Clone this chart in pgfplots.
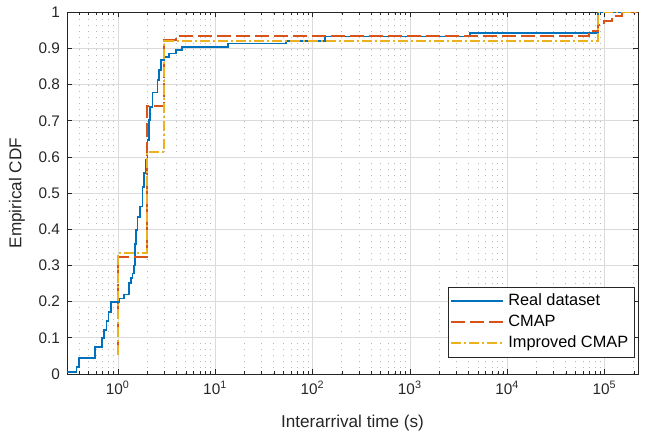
\documentclass[border=0pt]{standalone}
\usepackage{fontspec}
\setmainfont{Liberation Sans}
\usepackage{pgfplots}
\pgfplotsset{compat=1.18}
\definecolor{mblue}{rgb}{0,0.447,0.741}
\definecolor{mred}{rgb}{0.85,0.325,0.098}
\definecolor{myel}{rgb}{0.929,0.694,0.125}
\definecolor{axgray}{rgb}{0.15,0.15,0.15}
\begin{document}
\begin{tikzpicture}
\path[use as bounding box] (-33.5bp,-31.5bp) rectangle (289bp,187bp);
\begin{axis}[
  scale only axis, width=285.5bp, height=180.85bp,
  xmode=log, log basis x=10,
  xmin=0.3, xmax=2.2e5, ymin=0, ymax=1,
  xtick={1,10,100,1000,10000,100000},
  minor xtick={0.4,0.5,0.6,0.7,0.8,0.9,2,3,4,5,6,7,8,9,20,30,40,50,60,70,80,90,
    200,300,400,500,600,700,800,900,2000,3000,4000,5000,6000,7000,8000,9000,
    20000,30000,40000,50000,60000,70000,80000,90000,200000},
  ytick={0,0.1,0.2,0.3,0.4,0.5,0.6,0.7,0.8,0.9,1},
  /pgf/number format/assume math mode=true,
  xticklabel={10\textsuperscript{\pgfmathprintnumber[fixed,precision=0]{\tick}}},
  yticklabel style={/pgf/number format/.cd, fixed, precision=1},
  tick label style={font=\fontsize{7.7}{9}\selectfont, text=axgray},
  label style={font=\fontsize{8.6}{10}\selectfont, text=axgray},
  xlabel={Interarrival time (s)},
  ylabel={Empirical CDF},
  xlabel style={at={(axis description cs:0.5,-0.1355)}, anchor=center},
  ylabel style={at={(axis description cs:-0.0876,0.5)}, anchor=center, rotate=0},
  tick align=inside,
  major tick length=2.5bp, minor tick length=1.5bp,
  every tick/.style={axgray, line width=0.35bp},
  axis line style={axgray, line width=0.45bp},
  xmajorgrids=true, ymajorgrids=true, xminorgrids=true,
  major grid style={black!14, line width=0.35bp},
  minor grid style={black!28, line width=0.5bp, dash pattern=on 0.6bp off 2.4bp},
  legend style={at={(rel axis cs:0.9947,0.046)}, anchor=south east,
    font=\fontsize{8.2}{9}\selectfont, draw=axgray, line width=0.4bp,
    inner sep=1.2bp, row sep=-0.8bp, text=black, fill=white},
  legend cell align=left,
  legend image code/.code={\draw[#1] (0bp,0bp) -- (26bp,0bp);},
]
\addplot[const plot, mblue, line width=0.9bp] coordinates {
(0.3,0.006)(0.375,0.02)(0.40,0.045)(0.58,0.074)(0.685,0.099)(0.723,0.122)
(0.764,0.147)(0.80,0.172)(0.847,0.2)(1.03,0.209)(1.16,0.22)(1.31,0.251)
(1.36,0.265)(1.41,0.278)(1.47,0.30)(1.50,0.36)(1.53,0.398)(1.59,0.435)
(1.69,0.463)(1.79,0.518)(1.86,0.555)(1.94,0.592)(2.01,0.647)(2.10,0.702)
(2.13,0.739)(2.27,0.778)(2.55,0.812)(2.66,0.84)(2.77,0.868)(2.99,0.877)
(3.37,0.886)(3.94,0.896)(4.54,0.903)(13.4,0.914)(53,0.921)(135,0.933)
(4100,0.942)(85700,1.0)(2.2e5,1.0)};
\addlegendentry{Real dataset}
\addplot[const plot, mred, line width=0.9bp, dash pattern=on 7bp off 2.5bp] coordinates {
(1,0.053)(1,0.324)(2,0.741)(3,0.923)(3.94,0.935)(6.87e4,0.949)(8.6e4,0.965)
(9.8e4,0.977)(1.2e5,0.99)(1.5e5,1.0)(2.2e5,1.0)};
\addlegendentry{CMAP}
\addplot[const plot, myel, line width=0.9bp, dash pattern=on 5bp off 1.5bp on 1bp off 1.5bp] coordinates {
(1,0.053)(1,0.334)(2,0.614)(3,0.921)(8.6e4,1.0)(2.2e5,1.0)};
\addlegendentry{Improved CMAP}
\end{axis}
\end{tikzpicture}
\end{document}
